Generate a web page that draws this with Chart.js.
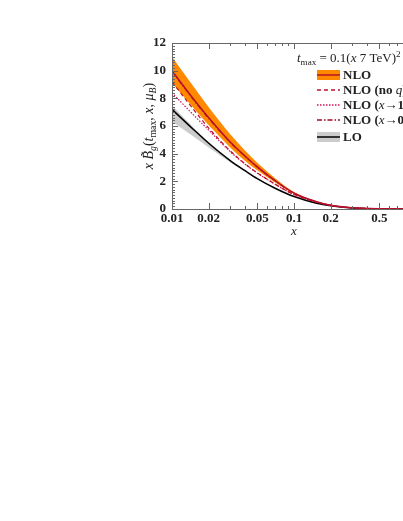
<!DOCTYPE html>
<html lang="en">
<head>
<meta charset="UTF-8">
<title>Gluon beam function</title>
<script src="https://cdn.jsdelivr.net/npm/chart.js"></script>
<style>
  html, body { margin: 0; padding: 0; background: #fff; overflow: hidden; width: 403px; height: 521px; }
  #wrap { position: absolute; left: 0; top: 0; width: 440px; height: 260px; }
</style>
</head>
<body>
<div id="wrap"><canvas id="beamChart" width="440" height="260"></canvas></div>
<script>
// values
const xs        = [0.01, 0.015, 0.02, 0.03, 0.04, 0.05, 0.07, 0.1, 0.15, 0.2, 0.3, 0.5, 0.7, 1.0];
const nlo       = [10.0, 7.95, 6.6, 4.85, 3.8, 3.05, 2.05, 1.15, 0.55, 0.27, 0.09, 0.012, 0.002, 0];
const nloUp     = [11.0, 8.85, 7.35, 5.4, 4.2, 3.35, 2.22, 1.22, 0.57, 0.28, 0.093, 0.012, 0.002, 0];
const nloDown   = [9.1, 7.3, 6.05, 4.45, 3.45, 2.8, 1.92, 1.1, 0.535, 0.262, 0.088, 0.012, 0.002, 0];
const nloNoQ    = [9.2, 7.2, 5.85, 4.2, 3.25, 2.62, 1.8, 1.05, 0.52, 0.26, 0.087, 0.012, 0.002, 0];
const nloX1     = [8.4, 6.8, 5.7, 4.15, 3.22, 2.6, 1.79, 1.04, 0.52, 0.26, 0.087, 0.012, 0.002, 0];
const nloX0     = [9.95, 7.9, 6.55, 4.82, 3.78, 3.03, 2.04, 1.14, 0.55, 0.27, 0.09, 0.012, 0.002, 0];
const lo        = [7.2, 5.75, 4.75, 3.5, 2.75, 2.2, 1.5, 0.9, 0.44, 0.23, 0.075, 0.01, 0.002, 0];
const loUp      = [7.5, 5.9, 4.85, 3.55, 2.78, 2.22, 1.51, 0.905, 0.442, 0.231, 0.075, 0.01, 0.002, 0];
const loDown    = [6.3, 5.25, 4.45, 3.38, 2.68, 2.15, 1.48, 0.89, 0.438, 0.229, 0.075, 0.01, 0.002, 0];
const xTickVals = [0.01, 0.02, 0.05, 0.1, 0.2, 0.5, 1];
const yTickVals = [0, 2, 4, 6, 8, 10, 12];

const SERIF = '"Liberation Serif", "DejaVu Serif", serif';
const ORANGE = '#ff8a00';
const GREY = '#cccccc';

function pts(arr) { return xs.map((x, i) => ({ x: x, y: arr[i] })); }

function line(label, arr, color, width, dash, order) {
    return {
        label: label, data: pts(arr), borderColor: color, borderWidth: width,
        borderDash: dash, pointRadius: 0, fill: false, order: order,
        cubicInterpolationMode: 'monotone'
    };
}
function band(arr, color, fill, order) {
    return {
        label: '', data: pts(arr), borderWidth: 0, borderColor: 'rgba(0,0,0,0)',
        backgroundColor: color, pointRadius: 0, fill: fill, order: order,
        cubicInterpolationMode: 'monotone'
    };
}

// draws a run of text pieces: [text, style, shift]
function rich(ctx, pieces, x, y, size) {
    let cx = x;
    pieces.forEach(p => {
        const s = p[2] ? size * 0.7 : size;
        ctx.font = p[1] + ' ' + s + 'px ' + SERIF;
        ctx.fillText(p[0], cx, y + (p[2] || 0));
        cx += ctx.measureText(p[0]).width;
    });
    return cx - x;
}
function richWidth(ctx, pieces, size) {
    let w = 0;
    pieces.forEach(p => {
        const s = p[2] ? size * 0.7 : size;
        ctx.font = p[1] + ' ' + s + 'px ' + SERIF;
        w += ctx.measureText(p[0]).width;
    });
    return w;
}

const decorations = {
    id: 'decorations',
    afterDatasetsDraw(chart) {
        const ctx = chart.ctx;
        const a = chart.chartArea;
        const sx = chart.scales.x, sy = chart.scales.y;
        ctx.save();
        ctx.strokeStyle = '#666';
        ctx.lineWidth = 1;
        ctx.strokeRect(a.left + 0.5, a.top + 0.5, a.right - a.left, a.bottom - a.top);

        // inward ticks, log minor ticks on x
        ctx.beginPath();
        [0.01, 0.1].forEach(dec => {
            for (let m = 1; m <= 9; m++) {
                const v = dec * m;
                const px = Math.round(sx.getPixelForValue(v)) + 0.5;
                const len = xTickVals.includes(+v.toFixed(3)) ? 6 : 3;
                ctx.moveTo(px, a.bottom); ctx.lineTo(px, a.bottom - len);
                ctx.moveTo(px, a.top); ctx.lineTo(px, a.top + len);
            }
        });
        for (let v = 0; v <= 12.001; v += 0.2) {
            const py = Math.round(sy.getPixelForValue(v)) + 0.5;
            const major = Math.abs(v / 2 - Math.round(v / 2)) < 0.01;
            const len = major ? 6 : 3;
            ctx.moveTo(a.left, py); ctx.lineTo(a.left + len, py);
            ctx.moveTo(a.right, py); ctx.lineTo(a.right - len, py);
        }
        ctx.stroke();

        ctx.fillStyle = '#222';
        ctx.textBaseline = 'alphabetic';

        // x axis title
        ctx.font = 'italic 13px ' + SERIF;
        ctx.textAlign = 'center';
        ctx.fillText('x', sx.getPixelForValue(0.1), 235);
        ctx.textAlign = 'left';

        // y axis title
        const yTitle = [['x ', 'italic'], ['B\u0303', 'italic'], ['g', 'italic', 3], ['(', 'normal'],
            ['t', 'italic'], ['max', 'normal', 3], [', ', 'normal'], ['x', 'italic'], [', ', 'normal'],
            ['\u03bc', 'italic'], ['B', 'italic', 3], [')', 'normal']];
        ctx.save();
        ctx.translate(153, 126);
        ctx.rotate(-Math.PI / 2);
        rich(ctx, yTitle, -richWidth(ctx, yTitle, 14) / 2, 0, 14);
        ctx.restore();

        // legend
        const lTitle = [['t', 'italic'], ['max', 'normal', 3], [' = 0.1(', 'normal'], ['x', 'italic'],
            [' 7 TeV)', 'normal'], ['2', 'normal', -5]];
        rich(ctx, lTitle, 297, 62, 13);

        const lx0 = 317, lx1 = 340, tx = 343;
        const entries = [
            { y: 75, text: [['NLO', 'bold']], band: ORANGE, color: '#b8102a', dash: [] },
            { y: 90, text: [['NLO (no ', 'bold'], ['q', 'italic'], [')', 'bold']], color: '#c0102a', dash: [4, 3] },
            { y: 105, text: [['NLO (', 'bold'], ['x', 'italic'], ['\u21921)', 'bold']], color: '#d0105a', dash: [1.5, 1.5] },
            { y: 120, text: [['NLO (', 'bold'], ['x', 'italic'], ['\u21920)', 'bold']], color: '#a00a2a', dash: [5, 2, 1.5, 2] },
            { y: 137, text: [['LO', 'bold']], band: GREY, color: '#000', dash: [] }
        ];
        entries.forEach(e => {
            if (e.band) {
                ctx.fillStyle = e.band;
                ctx.fillRect(lx0, e.y - 5, lx1 - lx0, 10);
            }
            ctx.strokeStyle = e.color;
            ctx.lineWidth = 1.5;
            ctx.setLineDash(e.dash);
            ctx.beginPath();
            ctx.moveTo(lx0, e.y); ctx.lineTo(lx1, e.y);
            ctx.stroke();
            ctx.setLineDash([]);
            ctx.fillStyle = '#222';
            rich(ctx, e.text, tx, e.y + 4, 13);
        });
        ctx.restore();
    }
};

const ctx = document.getElementById('beamChart').getContext('2d');
new Chart(ctx, {
    type: 'line',
    data: {
        datasets: [
            line('NLO', nlo, '#b8102a', 1.5, [], 1),
            line('NLO (x→0)', nloX0, '#a00a2a', 1.2, [5, 2, 1.5, 2], 2),
            line('NLO (no q)', nloNoQ, '#c0102a', 1.2, [4, 3], 3),
            line('NLO (x→1)', nloX1, '#d0105a', 1.2, [1.5, 1.5], 4),
            line('LO', lo, '#000000', 1.5, [], 5),
            band(nloUp, ORANGE, '+1', 6),
            band(nloDown, ORANGE, false, 7),
            band(loUp, GREY, '+1', 8),
            band(loDown, GREY, false, 9)
        ]
    },
    options: {
        responsive: false,
        animation: false,
        devicePixelRatio: 1,
        layout: { padding: { top: 43, right: 24, left: 0, bottom: 0 } },
        plugins: { legend: { display: false }, tooltip: { enabled: false } },
        scales: {
            x: {
                type: 'logarithmic', min: 0.01, max: 1,
                grid: { display: false, drawTicks: false },
                border: { display: false },
                afterBuildTicks: s => { s.ticks = xTickVals.map(v => ({ value: v })); },
                afterFit: s => { s.height = 51; },
                ticks: {
                    color: '#222', padding: 2, maxRotation: 0, autoSkip: false,
                    font: { family: SERIF, size: 13, weight: 'bold' },
                    callback: v => String(v)
                }
            },
            y: {
                min: 0, max: 12,
                grid: { display: false, drawTicks: false },
                border: { display: false },
                afterBuildTicks: s => { s.ticks = yTickVals.map(v => ({ value: v })); },
                afterFit: s => { s.width = 172; },
                ticks: {
                    color: '#222', padding: 6,
                    font: { family: SERIF, size: 13, weight: 'bold' }
                }
            }
        }
    },
    plugins: [decorations]
});
</script>
</body>
</html>
